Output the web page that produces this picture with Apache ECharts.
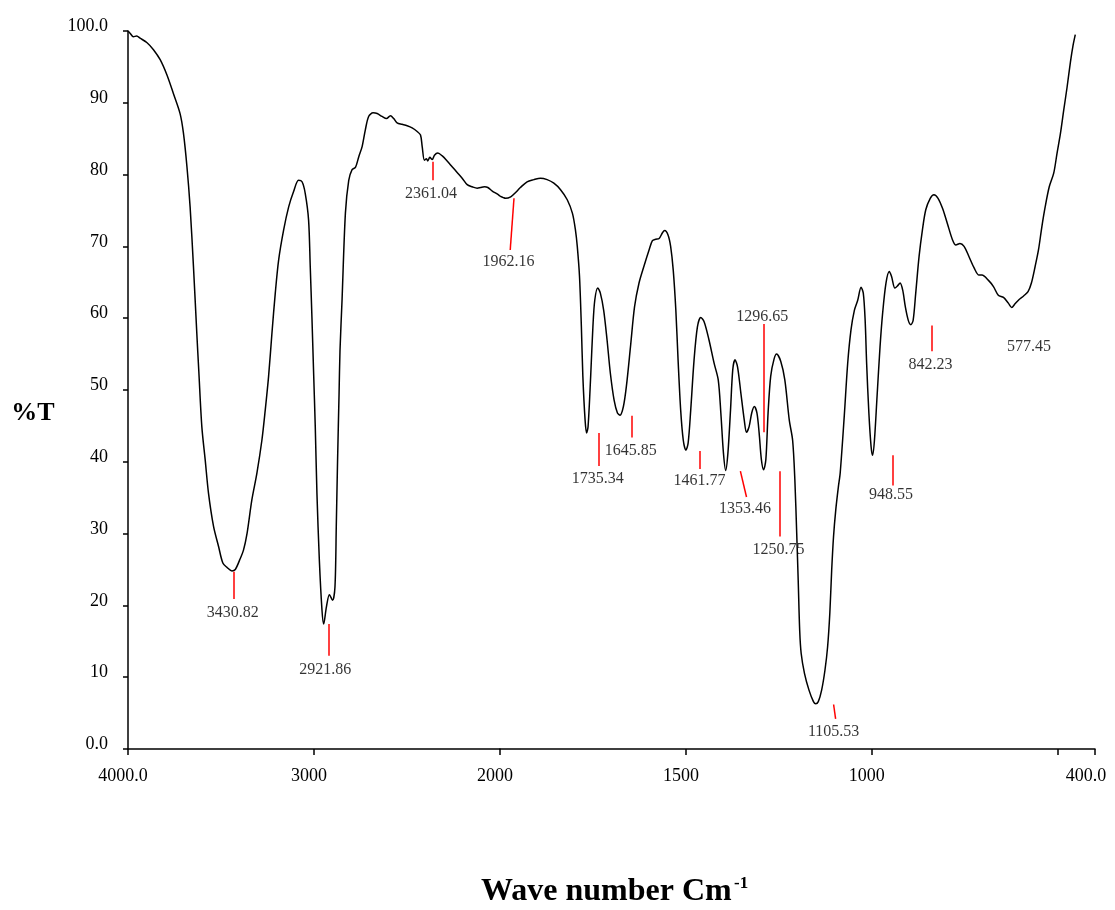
<!DOCTYPE html>
<html>
<head>
<meta charset="utf-8">
<script src="https://cdn.jsdelivr.net/npm/echarts@6.0.0/dist/echarts.min.js"></script>
<style>
  html, body { margin: 0; padding: 0; background: #ffffff; }
  #chart { width: 1115px; height: 910px; }
</style>
</head>
<body>
<div id="chart"></div>
<script>
// FTIR transmittance spectrum, [wavenumber (cm-1), %T]
const spectrum = [
  [4000, 100.0], [3989, 99.7], [3971, 99.2], [3953, 99.3], [3935, 99.0], [3899, 98.4],
  [3863, 97.4], [3827, 96.0], [3791, 93.9], [3756, 91.3], [3720, 88.5], [3702, 85.8],
  [3683, 81.1], [3666, 75.5], [3648, 67.2], [3630, 57.9], [3619, 52.5], [3603, 44.9],
  [3585, 40.3], [3567, 35.6], [3540, 31.0], [3513, 28.2], [3490, 25.9], [3468, 25.3],
  [3441, 24.8], [3423, 25.0], [3400, 26.3], [3379, 27.7], [3360, 30.0], [3334, 34.7],
  [3307, 38.4], [3280, 43.0], [3262, 47.2], [3244, 51.9], [3226, 57.9], [3208, 63.5],
  [3190, 68.1], [3163, 72.3], [3136, 75.5], [3110, 77.6], [3083, 79.2], [3064, 79.0],
  [3047, 77.4], [3029, 73.7], [3020, 67.2], [3011, 60.2], [3002, 52.5], [2993, 44.9],
  [2984, 35.6], [2971, 26.3], [2957, 19.4], [2948, 17.4], [2933, 19.8], [2917, 21.5],
  [2900, 20.7], [2887, 22.6], [2880, 31.0], [2873, 40.3], [2865, 49.5], [2860, 55.5],
  [2849, 62.5], [2831, 74.6], [2813, 79.2], [2795, 80.7], [2777, 81.0], [2759, 82.5],
  [2741, 83.9], [2724, 86.2], [2706, 88.1], [2682, 88.6], [2660, 88.5], [2634, 88.1],
  [2610, 87.8], [2589, 88.2], [2571, 87.8], [2553, 87.2], [2526, 87.0], [2499, 86.8],
  [2472, 86.5], [2445, 86.0], [2427, 85.5], [2418, 83.9], [2406, 82.0], [2395, 82.2],
  [2388, 81.9], [2377, 82.4], [2364, 82.1], [2352, 82.7], [2334, 83.0], [2310, 82.6],
  [2284, 81.9], [2257, 81.1], [2230, 80.3], [2203, 79.5], [2176, 78.6], [2149, 78.3],
  [2122, 78.1], [2104, 78.2], [2083, 78.3], [2065, 78.2], [2041, 77.7], [2015, 77.3],
  [2000, 77.0], [1991, 76.8], [1985, 76.7], [1971, 76.9], [1958, 77.5], [1945, 78.2],
  [1927, 79.0], [1909, 79.3], [1891, 79.5], [1873, 79.3], [1855, 78.8], [1837, 77.9],
  [1819, 76.5], [1805, 74.6], [1797, 72.3], [1792, 70.0], [1786, 65.8], [1781, 58.8],
  [1777, 51.9], [1771, 45.8], [1767, 44.0], [1763, 44.9], [1756, 51.9], [1750, 58.8],
  [1745, 62.5], [1737, 64.2], [1730, 63.5], [1721, 61.1], [1712, 57.0], [1703, 52.3],
  [1693, 48.6], [1684, 46.8], [1677, 46.5], [1668, 47.7], [1660, 50.5], [1649, 56.0],
  [1638, 61.6], [1626, 64.9], [1613, 67.2], [1599, 69.5], [1590, 70.8], [1581, 71.0],
  [1572, 71.1], [1563, 71.9], [1557, 72.2], [1548, 71.6], [1541, 70.0], [1534, 66.7],
  [1527, 61.1], [1521, 54.2], [1514, 47.2], [1507, 43.0], [1500, 41.6], [1494, 42.6],
  [1487, 47.2], [1478, 54.2], [1469, 58.8], [1460, 60.1], [1451, 59.5], [1438, 57.0],
  [1424, 53.7], [1413, 51.4], [1406, 46.8], [1399, 41.2], [1393, 38.8], [1387, 41.2],
  [1380, 47.2], [1374, 52.8], [1368, 54.2], [1361, 53.2], [1352, 49.5], [1343, 45.8],
  [1337, 44.1], [1330, 44.9], [1323, 46.8], [1316, 47.7], [1309, 46.8], [1303, 44.0],
  [1297, 40.3], [1291, 38.9], [1285, 40.3], [1279, 46.8], [1272, 51.9], [1263, 54.3],
  [1256, 55.0], [1245, 54.0], [1234, 51.4], [1222, 45.8], [1213, 43.0], [1207, 37.5],
  [1202, 30.0], [1198, 23.5], [1194, 16.5], [1190, 13.3], [1181, 10.5], [1169, 8.2],
  [1157, 6.6], [1151, 6.3], [1144, 6.6], [1135, 8.2], [1126, 11.0], [1119, 14.2],
  [1113, 18.9], [1108, 24.9], [1103, 29.6], [1097, 33.3], [1090, 36.5], [1085, 38.5],
  [1074, 46.5], [1065, 53.7], [1056, 58.4], [1047, 61.1], [1038, 62.5], [1029, 64.3],
  [1023, 63.5], [1018, 59.7], [1014, 53.7], [1008, 46.8], [1002, 42.1], [998, 40.9],
  [993, 43.0], [986, 49.1], [978, 56.0], [971, 60.7], [962, 64.9], [953, 66.5],
  [947, 65.8], [938, 64.2], [931, 64.5], [924, 64.9], [917, 63.9], [910, 61.6],
  [902, 59.7], [895, 59.1], [889, 59.7], [882, 63.5], [873, 68.6], [864, 72.3],
  [855, 75.1], [843, 76.7], [833, 77.2], [822, 76.7], [810, 75.3], [797, 73.2],
  [783, 70.9], [774, 70.2], [763, 70.4], [752, 70.0], [739, 68.6], [725, 67.0],
  [712, 66.0], [704, 66.0], [687, 65.3], [673, 64.4], [660, 63.2], [646, 62.9],
  [633, 62.1], [624, 61.5], [615, 62.0], [604, 62.6], [592, 63.1], [580, 63.7],
  [571, 64.9], [561, 67.2], [552, 69.5], [543, 72.7], [534, 75.5], [523, 78.3],
  [511, 80.2], [502, 83.0], [493, 85.7], [484, 89.0], [475, 92.2], [466, 95.7],
  [459, 98.0], [453, 99.5]
];

// Axis ranges and ticks; the scale doubles below 2000 cm-1
const WN_MAX = 4000;
const WN_SPLIT = 2000;
const WN_MIN = 400;
const highTicks = [4000, 3000, 2000];
const highLabels = [4000, 3000];
const lowTicks = [2000, 1500, 1000, 500, 400];
const lowLabels = [2000, 1500, 1000, 400];

// Peak annotations: text, marker segment [wn1, T1, wn2, T2], text anchor [wn, T]
const peakText = ['3430.82', '2921.86', '2361.04', '1962.16', '1735.34', '1645.85', '1461.77',
  '1296.65', '1353.46', '1250.75', '1105.53', '948.55', '842.23', '577.45'];
const peakMarks = [
  [3430.82, 24.7, 3430.82, 20.9],
  [2921.86, 17.4, 2921.86, 13.0],
  [2361.04, 81.8, 2361.04, 79.2],
  [1962.16, 76.7, 1972.3, 69.5],
  [1735.34, 44.0, 1735.34, 39.4],
  [1645.85, 46.4, 1645.85, 43.4],
  [1461.77, 41.5, 1461.77, 39.0],
  [1290.4, 59.2, 1290.4, 44.1],
  [1353.46, 38.7, 1337.0, 35.1],
  [1247.0, 38.7, 1247.0, 29.6],
  [1102.8, 6.2, 1097.4, 4.2],
  [944.0, 40.9, 944.0, 36.7],
  [838.5, 59.0, 838.5, 55.4],
  null
];
const peakTextAt = [
  [3437, 19.0], [2939, 11.1], [2371, 77.3], [1977, 67.9], [1737, 37.6], [1648.5, 41.6],
  [1463.3, 37.3], [1295, 60.2], [1341, 33.4], [1250.9, 27.8], [1102.8, 2.4], [948.6, 35.4],
  [842.23, 53.5], [577.45, 56.0]
];

const SERIF = "'Liberation Serif', 'Times New Roman', Times, serif";

// plot frame in pixels
const PLOT_LEFT = 128, PLOT_RIGHT = 1095, PLOT_TOP = 31, PLOT_BOTTOM = 749;
const pxPerWn = (PLOT_RIGHT - PLOT_LEFT) / ((WN_MAX - WN_SPLIT) / 2 + (WN_SPLIT - WN_MIN));
const splitX = PLOT_LEFT + pxPerWn * (WN_MAX - WN_SPLIT) / 2;

const highPart = spectrum.filter(p => p[0] >= WN_SPLIT);
const lowPart = spectrum.filter(p => p[0] <= WN_SPLIT);

function marksFor(test) {
  const lines = [], labels = [];
  peakText.forEach((t, i) => {
    const at = peakTextAt[i];
    if (!test(at[0])) return;
    labels.push([at[0], at[1], t]);
    const m = peakMarks[i];
    if (m) lines.push([{ coord: [m[0], m[1]] }, { coord: [m[2], m[3]] }]);
  });
  return { lines, labels };
}
const highMarks = marksFor(w => w >= WN_SPLIT);
const lowMarks = marksFor(w => w < WN_SPLIT);

const axisLineStyle = { color: '#000', width: 1.5 };
const tickLabelStyle = { color: '#000', fontFamily: SERIF, fontSize: 18 };

function xAxisFor(gridIndex, min, max, ticks, labels) {
  return {
    type: 'value', gridIndex, min, max, inverse: true,
    axisLine: { show: true, onZero: false, lineStyle: axisLineStyle },
    axisTick: { show: true, inside: false, length: 6, lineStyle: axisLineStyle, customValues: ticks },
    axisLabel: {
      show: true, ...tickLabelStyle, margin: 18, padding: [0, 10, 0, 0],
      customValues: labels,
      formatter: v => v === 4000 ? '4000.0' : (v === 400 ? '{e|400.0}' : String(v)),
      rich: { e: { ...tickLabelStyle, padding: [0, 8, 0, 0] } }
    },
    splitLine: { show: false }
  };
}

function labelSeries(xi, marks) {
  return {
    type: 'scatter', xAxisIndex: xi, yAxisIndex: xi, symbolSize: 0, silent: true, clip: false,
    data: marks.labels,
    label: {
      show: true, position: 'inside', formatter: p => p.data[2],
      color: '#000', fontFamily: SERIF, fontSize: 16
    },
    markLine: {
      silent: true, symbol: ['none', 'none'], label: { show: false },
      lineStyle: { color: '#ff0000', width: 1.5, type: 'solid' },
      emphasis: { disabled: true },
      data: marks.lines
    }
  };
}

const chart = echarts.init(document.getElementById('chart'), null, { renderer: 'canvas' });
chart.setOption({
  animation: false,
  backgroundColor: '#ffffff',
  grid: [
    { left: PLOT_LEFT, top: PLOT_TOP, width: splitX - PLOT_LEFT, height: PLOT_BOTTOM - PLOT_TOP },
    { left: splitX, top: PLOT_TOP, width: PLOT_RIGHT - splitX, height: PLOT_BOTTOM - PLOT_TOP }
  ],
  xAxis: [
    xAxisFor(0, WN_SPLIT, WN_MAX, highTicks, highLabels),
    xAxisFor(1, WN_MIN, WN_SPLIT, lowTicks, lowLabels)
  ],
  yAxis: [
    {
      type: 'value', gridIndex: 0, min: 0, max: 100, interval: 10,
      axisLine: { show: true, onZero: false, lineStyle: axisLineStyle },
      axisTick: { show: true, inside: false, length: 5, lineStyle: axisLineStyle },
      axisLabel: {
        ...tickLabelStyle, margin: 20, verticalAlign: 'bottom', lineHeight: 9,
        formatter: v => v === 100 ? '100.0' : (v === 0 ? '0.0' : String(v))
      },
      splitLine: { show: false }
    },
    { type: 'value', gridIndex: 1, min: 0, max: 100, interval: 10, show: false, splitLine: { show: false } }
  ],
  series: [
    {
      type: 'line', xAxisIndex: 0, yAxisIndex: 0, data: highPart, showSymbol: false,
      smooth: 0.3, lineStyle: { color: '#000', width: 1.5 }, silent: true
    },
    {
      type: 'line', xAxisIndex: 1, yAxisIndex: 1, data: lowPart, showSymbol: false,
      smooth: 0.3, lineStyle: { color: '#000', width: 1.5 }, silent: true
    },
    labelSeries(0, highMarks),
    labelSeries(1, lowMarks)
  ],
  graphic: [
    {
      type: 'text', x: 33, y: 413,
      style: { text: '%T', fill: '#000', font: `bold 26px ${SERIF}`, align: 'center', verticalAlign: 'middle' }
    },
    {
      type: 'text', x: 481, y: 892,
      style: { text: 'Wave number Cm', fill: '#000', font: `bold 32px ${SERIF}`, align: 'left', verticalAlign: 'middle' }
    },
    {
      type: 'text', x: 734, y: 884,
      style: { text: '-1', fill: '#000', font: `bold 17px ${SERIF}`, align: 'left', verticalAlign: 'middle' }
    }
  ]
});
</script>
</body>
</html>
